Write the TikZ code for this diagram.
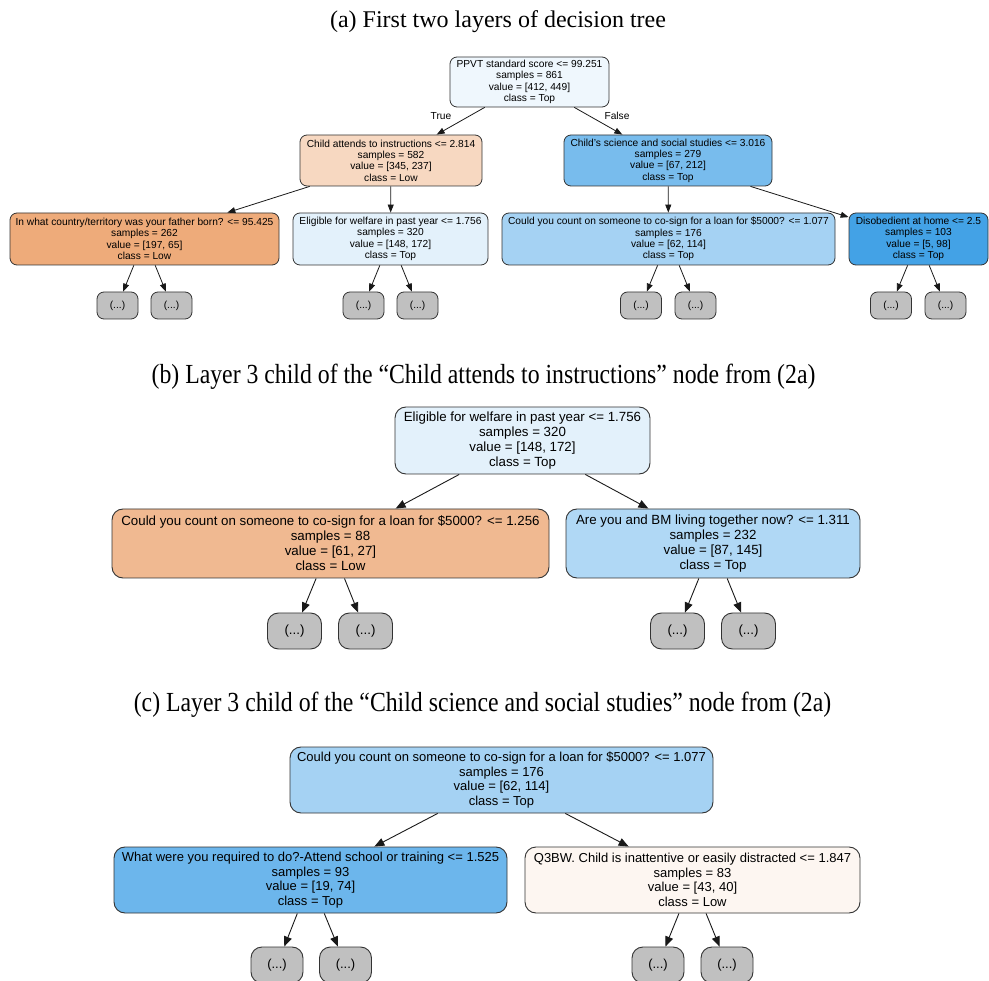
\documentclass[tikz,border=0pt]{standalone}
\usepackage{fontspec}
\setmainfont{Liberation Serif}
\setsansfont{Liberation Sans}
\usepackage{tikz}
\usetikzlibrary{arrows.meta}

\definecolor{cRoot}{HTML}{EFF7FD}
\definecolor{cAttend}{HTML}{F7D8C1}
\definecolor{cScience}{HTML}{78BCED}
\definecolor{cCountry}{HTML}{EEAB7A}
\definecolor{cWelfare}{HTML}{E3F1FB}
\definecolor{cCosignA}{HTML}{A5D2F3}
\definecolor{cDisobey}{HTML}{43A2E6}
\definecolor{cCosignB}{HTML}{F0B991}
\definecolor{cLiving}{HTML}{B0D8F5}
\definecolor{cSchool}{HTML}{6CB6EC}
\definecolor{cDistract}{HTML}{FDF6F1}
\definecolor{cDots}{HTML}{C0C0C0}

\tikzset{
  title/.style={anchor=base, font=\fontsize{24}{28}\selectfont},
  boxa/.style={draw=black!80, line width=0.8pt, rounded corners=7pt, align=center, inner sep=0pt,
    font=\sffamily\fontsize{10.2}{11.3}\selectfont},
  boxb/.style={draw=black!80, line width=0.9pt, rounded corners=11pt, align=center, inner sep=0pt,
    font=\sffamily\fontsize{13.3}{15}\selectfont},
  boxc/.style={boxb, font=\sffamily\fontsize{13}{14.6}\selectfont},
  dotsa/.style={boxa, fill=cDots, minimum width=41pt, minimum height=27pt},
  dotsb/.style={boxb, fill=cDots, minimum width=54pt, minimum height=36pt},
  dotsc/.style={boxc, fill=cDots, minimum width=52pt, minimum height=36pt},
  lbl/.style={font=\sffamily\fontsize{10.2}{11.3}\selectfont},
  edgea/.style={-{Triangle[length=8pt,width=6pt]}, line width=0.8pt, black!90},
  edgeb/.style={-{Triangle[length=10pt,width=8pt]}, line width=0.9pt, black!90},
}

\begin{document}
\begin{tikzpicture}[x=1pt,y=-1pt]
\useasboundingbox (0,0) rectangle (989,981);

% (a) first two layers
\node[title] (ta) at (498,28) {(a) First two layers of decision tree};

\node[boxa, fill=cRoot, minimum width=159pt, minimum height=50pt] (root) at (529.5,82)
  {PPVT standard score <= 99.251\\samples = 861\\value = [412, 449]\\class = Top};
\node[boxa, fill=cAttend, minimum width=182pt, minimum height=51pt] (attend) at (391,160.5)
  {Child attends to instructions <= 2.814\\samples = 582\\value = [345, 237]\\class = Low};
\node[boxa, fill=cScience, minimum width=208pt, minimum height=51pt] (science) at (668,160.5)
  {Child's science and social studies <= 3.016\\samples = 279\\value = [67, 212]\\class = Top};

\node[boxa, fill=cCountry, minimum width=269pt, minimum height=52pt] (country) at (144.5,239)
  {In what country/territory was your father born? <= 95.425\\samples = 262\\value = [197, 65]\\class = Low};
\node[boxa, fill=cWelfare, minimum width=195pt, minimum height=52pt] (welfare) at (390.5,239)
  {Eligible for welfare in past year <= 1.756\\samples = 320\\value = [148, 172]\\class = Top};
\node[boxa, fill=cCosignA, minimum width=333pt, minimum height=52pt] (cosign) at (668.5,239)
  {Could you count on someone to co-sign for a loan for \$5000? <= 1.077\\samples = 176\\value = [62, 114]\\class = Top};
\node[boxa, fill=cDisobey, minimum width=139pt, minimum height=52pt] (disobey) at (918.5,239)
  {Disobedient at home <= 2.5\\samples = 103\\value = [5, 98]\\class = Top};

\node[dotsa] (country1) at (117.5,305.5) {(...)};
\node[dotsa] (country2) at (171.5,305.5) {(...)};
\node[dotsa] (welfare1) at (363.5,305.5) {(...)};
\node[dotsa] (welfare2) at (417.5,305.5) {(...)};
\node[dotsa] (cosign1) at (641,305.5) {(...)};
\node[dotsa] (cosign2) at (695.5,305.5) {(...)};
\node[dotsa] (disobey1) at (891,305.5) {(...)};
\node[dotsa] (disobey2) at (945.5,305.5) {(...)};

\draw[edgea] (root) -- (attend);
\draw[edgea] (root) -- (science);
\node[lbl] (ltrue) at (441,116) {True};
\node[lbl] (lfalse) at (617,116) {False};
\draw[edgea] (attend) -- (country);
\draw[edgea] (attend) -- (welfare);
\draw[edgea] (science) -- (cosign);
\draw[edgea] (science) -- (disobey);
\foreach \n in {country,welfare,cosign,disobey}{
  \draw[edgea] (\n) -- (\n1);
  \draw[edgea] (\n) -- (\n2);
}

% (b) below the welfare node
\node[title] (tb) at (483.5,384) {\scalebox{0.99}[1.15]{(b) Layer 3 child of the “Child attends to instructions” node from (2a)}};

\node[boxb, fill=cWelfare, minimum width=255pt, minimum height=67pt] (broot) at (522.5,440.5)
  {Eligible for welfare in past year <= 1.756\\samples = 320\\value = [148, 172]\\class = Top};
\node[boxb, fill=cCosignB, minimum width=437pt, minimum height=69pt] (bleft) at (330.5,543.5)
  {Could you count on someone to co-sign for a loan for \$5000? <= 1.256\\samples = 88\\value = [61, 27]\\class = Low};
\node[boxb, fill=cLiving, minimum width=294pt, minimum height=69pt] (bright) at (713,543.5)
  {Are you and BM living together now? <= 1.311\\samples = 232\\value = [87, 145]\\class = Top};

\node[dotsb] (bleft1) at (294.5,631) {(...)};
\node[dotsb] (bleft2) at (365.5,631) {(...)};
\node[dotsb] (bright1) at (677.5,631) {(...)};
\node[dotsb] (bright2) at (748.5,631) {(...)};

\draw[edgeb] (broot) -- (bleft);
\draw[edgeb] (broot) -- (bright);
\foreach \n in {bleft,bright}{
  \draw[edgeb] (\n) -- (\n1);
  \draw[edgeb] (\n) -- (\n2);
}

% (c) below the co-sign node
\node[title] (tc) at (482.5,711) {\scalebox{0.99}[1.15]{(c) Layer 3 child of the “Child science and social studies” node from (2a)}};

\node[boxc, fill=cCosignA, minimum width=423pt, minimum height=66pt] (croot) at (501.5,780)
  {Could you count on someone to co-sign for a loan for \$5000? <= 1.077\\samples = 176\\value = [62, 114]\\class = Top};
\node[boxc, fill=cSchool, minimum width=393pt, minimum height=66pt] (cleft) at (310.5,880)
  {What were you required to do?-Attend school or training <= 1.525\\samples = 93\\value = [19, 74]\\class = Top};
\node[boxc, fill=cDistract, minimum width=335pt, minimum height=66pt] (cright) at (692.5,880)
  {Q3BW. Child is inattentive or easily distracted <= 1.847\\samples = 83\\value = [43, 40]\\class = Low};

\node[dotsc] (cleft1) at (277,965) {(...)};
\node[dotsc] (cleft2) at (345.5,965) {(...)};
\node[dotsc] (cright1) at (658,965) {(...)};
\node[dotsc] (cright2) at (727,965) {(...)};

\draw[edgeb] (croot) -- (cleft);
\draw[edgeb] (croot) -- (cright);
\foreach \n in {cleft,cright}{
  \draw[edgeb] (\n) -- (\n1);
  \draw[edgeb] (\n) -- (\n2);
}
\end{tikzpicture}
\end{document}
